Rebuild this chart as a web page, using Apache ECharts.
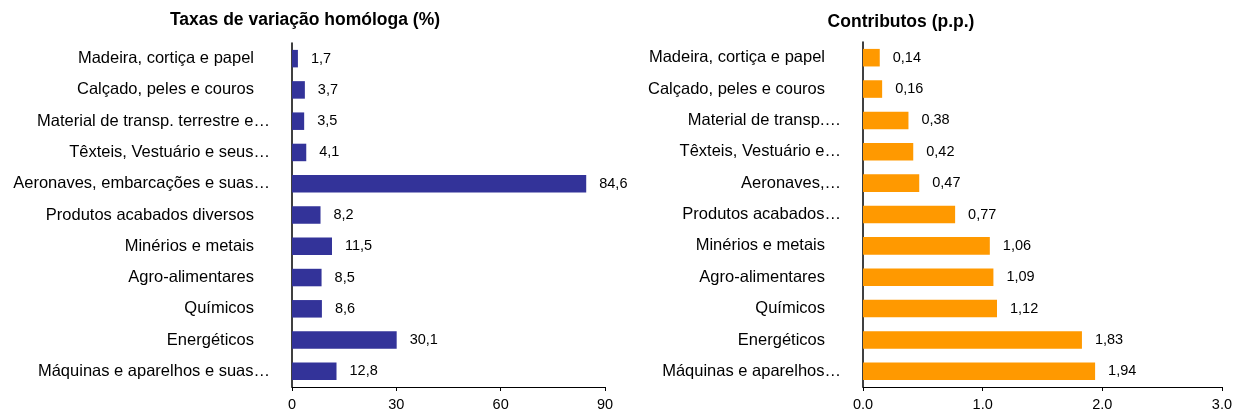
<!DOCTYPE html>
<html>
<head>
<meta charset="utf-8">
<script src="https://cdn.jsdelivr.net/npm/echarts@6/dist/echarts.min.js"></script>
<style>html,body{margin:0;padding:0;background:#fff}#c{width:1235px;height:412px}</style>
</head>
<body>
<div id="c"></div>
<script>
var leftTitle = 'Taxas de variação homóloga (%)';
var rightTitle = 'Contributos (p.p.)';
var leftCategories = ['Madeira, cortiça e papel','Calçado, peles e couros','Material de transp. terrestre e…','Têxteis, Vestuário e seus…','Aeronaves, embarcações e suas…','Produtos acabados diversos','Minérios e metais','Agro-alimentares','Químicos','Energéticos','Máquinas e aparelhos e suas…'];
var leftValues = [1.7, 3.7, 3.5, 4.1, 84.6, 8.2, 11.5, 8.5, 8.6, 30.1, 12.8];
var rightCategories = ['Madeira, cortiça e papel','Calçado, peles e couros','Material de transp.…','Têxteis, Vestuário e…','Aeronaves,…','Produtos acabados…','Minérios e metais','Agro-alimentares','Químicos','Energéticos','Máquinas e aparelhos…'];
var rightValues = [0.14, 0.16, 0.38, 0.42, 0.47, 0.77, 1.06, 1.09, 1.12, 1.83, 1.94];
var leftTicks = [0, 30, 60, 90];
var rightTicks = ['0.0', '1.0', '2.0', '3.0'];

var FONT = '"Liberation Sans", Arial, sans-serif';
var chart = echarts.init(document.getElementById('c'), null, {renderer: 'canvas'});

function catLabel(v) {
  var trunc = v.indexOf('…') >= 0;
  return trunc ? '{t|' + v + '}' : '{f|' + v + '}';
}
var richCat = {
  t: {fontSize: 16.5, fontFamily: FONT, color: '#000', padding: [0, 0, 0, 0]},
  f: {fontSize: 16.5, fontFamily: FONT, color: '#000', padding: [0, 16, 0, 0]}
};

function valueAxis(gridIndex, max, interval, fmt) {
  return {
    type: 'value', gridIndex: gridIndex, min: 0, max: max, interval: interval,
    splitLine: {show: false},
    axisLine: {show: true, lineStyle: {color: '#000', width: 1}},
    axisTick: {show: true, length: 4, lineStyle: {color: '#000'}},
    axisLabel: {fontSize: 14.5, fontFamily: FONT, color: '#000', margin: 10, formatter: fmt}
  };
}
function catAxis(gridIndex, cats) {
  return {
    type: 'category', gridIndex: gridIndex, data: cats, inverse: true,
    axisLine: {show: true, lineStyle: {color: '#000', width: 1.5}},
    axisTick: {show: false},
    axisLabel: {margin: 22, formatter: catLabel, rich: richCat, interval: 0}
  };
}

chart.setOption({
  animation: false,
  backgroundColor: '#fff',
  title: [
    {text: leftTitle, left: 300, top: 6, textAlign: 'center',
     textStyle: {fontSize: 17.5, fontWeight: 'bold', fontFamily: FONT, color: '#000'}},
    {text: rightTitle, left: 896, top: 8, textAlign: 'center',
     textStyle: {fontSize: 17.5, fontWeight: 'bold', fontFamily: FONT, color: '#000'}}
  ],
  grid: [
    {left: 292, right: 630, top: 43, bottom: 25, containLabel: false},
    {left: 863, right: 13, top: 42, bottom: 21, containLabel: false}
  ],
  xAxis: [
    valueAxis(0, 90, 30, function (v) { return String(v); }),
    valueAxis(1, 3, 1, function (v) { return v.toFixed(1); })
  ],
  yAxis: [catAxis(0, leftCategories), catAxis(1, rightCategories)],
  series: [
    {type: 'bar', xAxisIndex: 0, yAxisIndex: 0, data: leftValues, barCategoryGap: '44%',
     itemStyle: {color: '#333399'},
     label: {show: true, position: 'right', distance: 13, fontSize: 14.5, fontFamily: FONT, color: '#000',
       formatter: function (p) { return p.value.toFixed(1).replace('.', ','); }}},
    {type: 'bar', xAxisIndex: 1, yAxisIndex: 1, data: rightValues, barCategoryGap: '44%',
     itemStyle: {color: '#FF9900'},
     label: {show: true, position: 'right', distance: 13, fontSize: 14.5, fontFamily: FONT, color: '#000',
       formatter: function (p) { return p.value.toFixed(2).replace('.', ','); }}}
  ]
});
</script>
</body>
</html>
